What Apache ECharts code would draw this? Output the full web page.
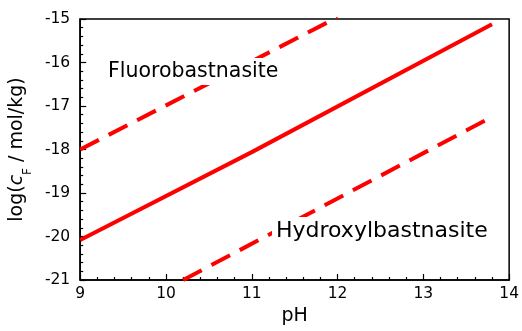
<!DOCTYPE html>
<html>
<head>
<meta charset="utf-8">
<script src="https://cdn.jsdelivr.net/npm/echarts@6/dist/echarts.min.js"></script>
<style>html,body{margin:0;padding:0;background:#fff}#c{width:522px;height:331px}</style>
</head>
<body>
<div id="c"></div>
<script>
// Data
const upperPH = [9.0, 12.0];
const upperLogC = [-18.0, -14.96];
const midPH = [9.0, 11.0, 13.8];
const midLogC = [-20.08, -18.06, -15.12];
const lowerPH = [10.2, 13.8];
const lowerLogC = [-21.0, -17.25];
const xTicks = [9, 10, 11, 12, 13, 14];
const yTicks = [-21, -20, -19, -18, -17, -16, -15];
const labelFluoro = 'Fluorobastnasite';
const labelHydroxy = 'Hydroxylbastnasite';

const FONT = '"DejaVu Sans", "Liberation Sans", Arial, sans-serif';
const pair = (xs, ys) => xs.map((x, i) => [x, ys[i]]);
const red = '#ff0000';

const chart = echarts.init(document.getElementById('c'), null, {renderer: 'canvas'});
chart.setOption({
  animation: false,
  backgroundColor: '#fff',
  grid: {left: 80, right: 10, top: 19, bottom: 51, show: true, borderColor: '#000', borderWidth: 1.5, backgroundColor: 'transparent'},
  xAxis: {
    type: 'value', min: xTicks[0], max: xTicks[xTicks.length - 1], interval: 1,
    name: 'pH', nameLocation: 'middle', nameGap: 27,
    nameTextStyle: {fontSize: 19, color: '#000', fontFamily: FONT},
    axisLine: {show: true, onZero: false, lineStyle: {color: '#000', width: 1.5}},
    axisTick: {show: true, inside: true, length: 6, lineStyle: {color: '#000', width: 1.2}},
    minorTick: {show: true, splitNumber: 5, length: 3, lineStyle: {color: '#000', width: 1.2}},
    splitLine: {show: false},
    axisLabel: {fontSize: 15.5, color: '#000', fontFamily: FONT, margin: 6}
  },
  yAxis: {
    type: 'value', min: yTicks[0], max: yTicks[yTicks.length - 1], interval: 1,
    name: '{n|log(}{i|c}{s|F}{n| / mol/kg)}', nameLocation: 'middle', nameGap: 52, nameRotate: 90,
    nameTextStyle: {
      color: '#000', fontFamily: FONT, fontSize: 19,
      rich: {
        n: {fontSize: 19, fontFamily: FONT, color: '#000'},
        i: {fontSize: 19, fontFamily: FONT, fontStyle: 'italic', color: '#000'},
        s: {fontSize: 12, fontFamily: FONT, color: '#000', verticalAlign: 'bottom', padding: [0, 0, -7, 0]}
      }
    },
    axisLine: {show: true, onZero: false, lineStyle: {color: '#000', width: 1.5}},
    axisTick: {show: true, inside: true, length: 6, lineStyle: {color: '#000', width: 1.2}},
    minorTick: {show: true, splitNumber: 5, length: 3, lineStyle: {color: '#000', width: 1.2}},
    splitLine: {show: false},
    axisLabel: {fontSize: 15.5, color: '#000', fontFamily: FONT, margin: 10}
  },
  series: [
    {type: 'line', data: pair(upperPH, upperLogC), showSymbol: false, symbol: 'none', clip: true,
     lineStyle: {color: red, width: 4, type: [21, 11], cap: 'butt'}, z: 2},
    {type: 'line', data: pair(midPH, midLogC), showSymbol: false, symbol: 'none', clip: true,
     lineStyle: {color: red, width: 4, type: 'solid'}, z: 2},
    {type: 'line', data: pair(lowerPH, lowerLogC), showSymbol: false, symbol: 'none', clip: true,
     lineStyle: {color: red, width: 4, type: [21, 11], cap: 'butt'}, z: 2}
  ],
  graphic: [
    {type: 'text', left: 104, top: 58, z: 100,
     style: {text: labelFluoro, fontSize: 20.5, fontFamily: FONT, fill: '#000', backgroundColor: '#fff', padding: [3, 4, 3, 4]}},
    {type: 'text', left: 272, top: 217, z: 100,
     style: {text: labelHydroxy, fontSize: 22, fontFamily: FONT, fill: '#000', backgroundColor: '#fff', padding: [3, 4, 3, 4]}}
  ]
});
</script>
</body>
</html>
